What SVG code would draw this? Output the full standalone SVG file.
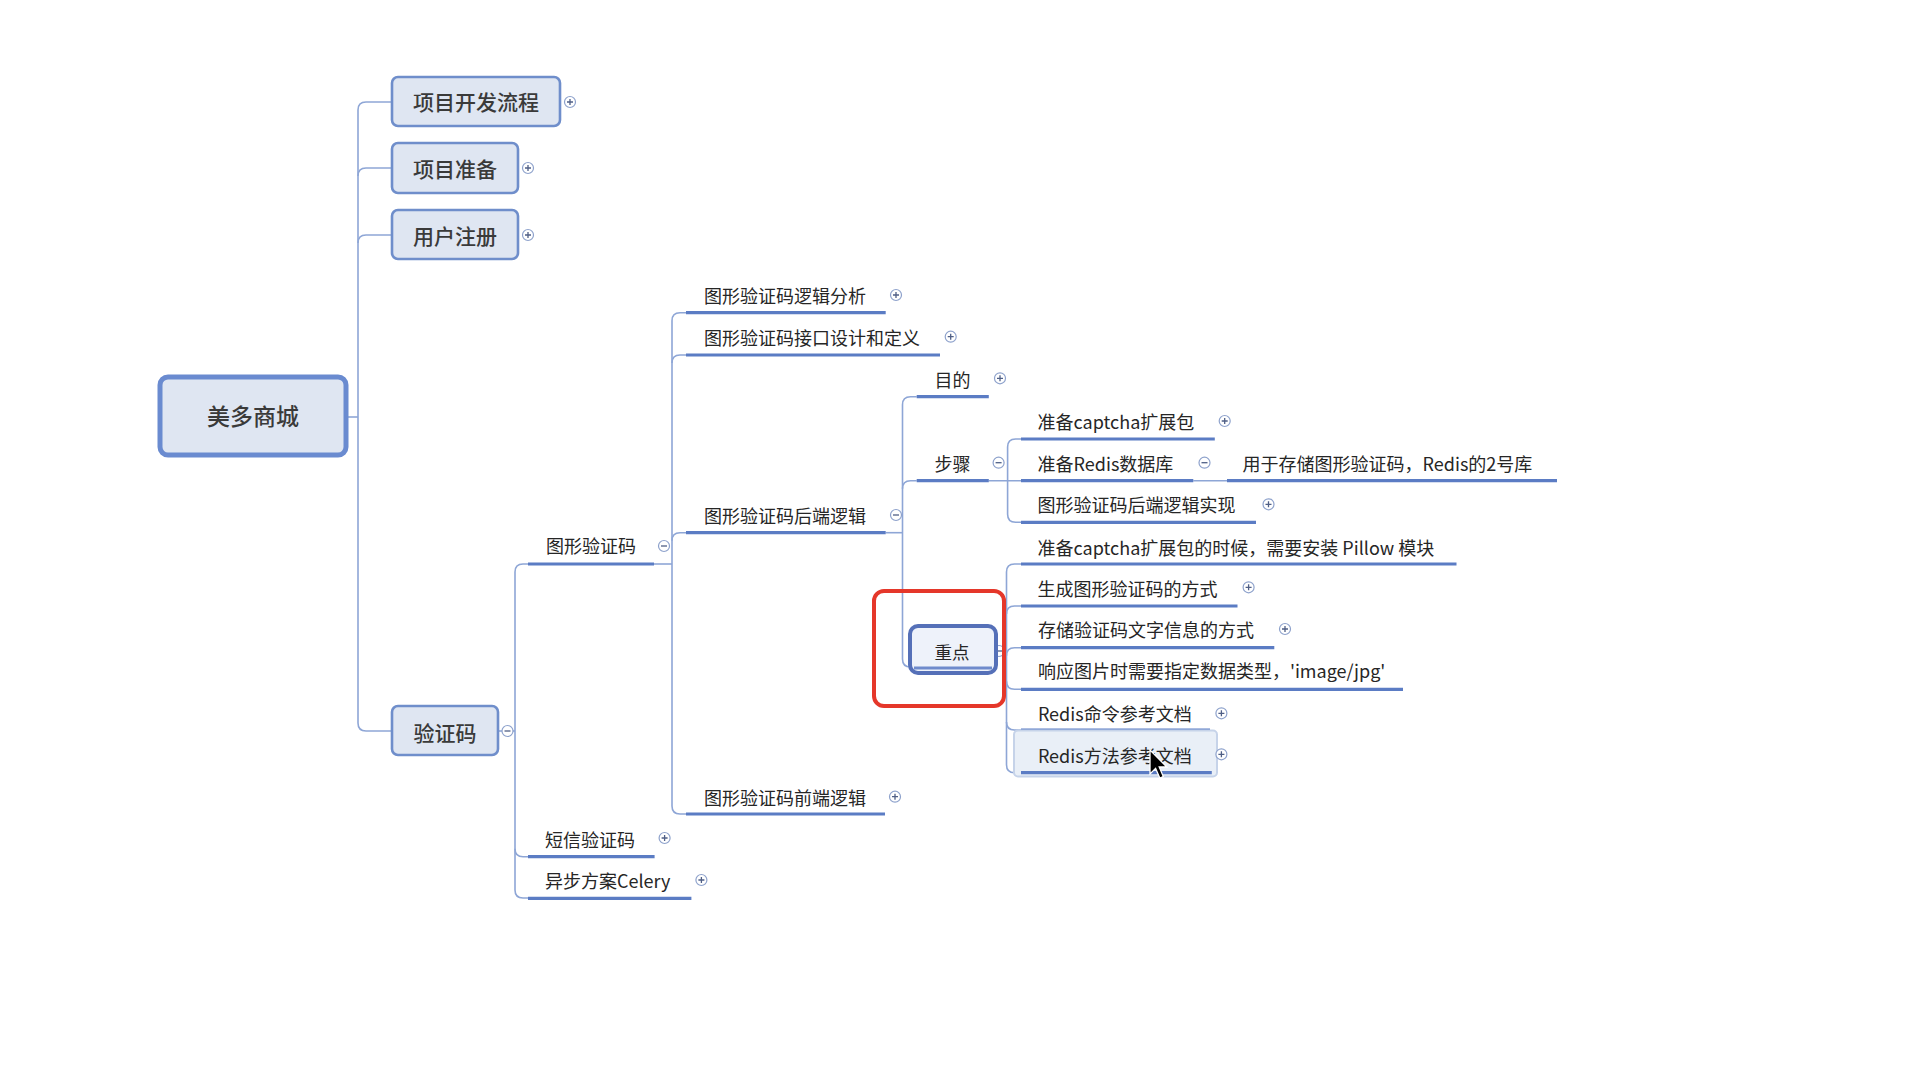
<svg xmlns="http://www.w3.org/2000/svg" xmlns:xlink="http://www.w3.org/1999/xlink" width="1912" height="1070" viewBox="0 0 1912 1070">
<style>
.conn{fill:none;stroke:#8ea6d6;stroke-width:1.6}
.ul{stroke:#5b7cc4;stroke-width:3.2;fill:none}
.box{fill:#dfe6f2;stroke:#6f8ecb;stroke-width:2.6}
.root{fill:#dfe6f2;stroke:#6a8bd0;stroke-width:5}
.t{font-family:"Noto Sans CJK SC","Noto Sans",sans-serif;font-size:18px;fill:#262626}
.bt{font-family:"Noto Sans CJK SC","Noto Sans",sans-serif;font-size:21px;font-weight:500;fill:#3a3a3a;text-anchor:middle}
.ic{fill:#fff;stroke:#8ea2cc;stroke-width:1.2}
.icl{stroke:#4f5f86;stroke-width:1.3}
</style>
<defs>
<g id="plus"><circle class="ic" r="5.5"/><path class="icl" d="M-3,0H3M0,-3V3"/></g>
<g id="minus"><circle class="ic" r="5.5"/><path class="icl" d="M-3,0H3"/></g>
</defs>
<rect width="1912" height="1070" fill="#fff"/>
<g id="connectors">
<path class="conn" d="M392,102 H366 Q358,102 358,110 V723 Q358,731 366,731 H392"/>
<path class="conn" d="M392,168 H366 Q358,168 358,176"/>
<path class="conn" d="M392,235 H366 Q358,235 358,243"/>
<path class="conn" d="M348,417 H358"/>
<path class="conn" d="M498,731 H515"/>
<path class="conn" d="M528,564 H523 Q515,564 515,572 V890 Q515,898 523,898 H528"/>
<path class="conn" d="M515,848.7 Q515,856.7 523,856.7 H528"/>
<path class="conn" d="M654,564 H672"/>
<path class="conn" d="M686,312.7 H680 Q672,312.7 672,320.7 V806 Q672,814 680,814 H686"/>
<path class="conn" d="M686,355 H680 Q672,355 672,363"/>
<path class="conn" d="M686,532.7 H680 Q672,532.7 672,540.7"/>
<path class="conn" d="M885.7,532.7 H902.5"/>
<path class="conn" d="M916.7,396.7 H910.5 Q902.5,396.7 902.5,404.7 V659 Q902.5,667 910.5,667 H913"/>
<path class="conn" d="M916.7,480.7 H910.5 Q902.5,480.7 902.5,488.7"/>
<path class="conn" d="M988.8,480.7 H1021"/>
<path class="conn" d="M1021,439 H1015.6 Q1007.6,439 1007.6,447 V514.3 Q1007.6,522.3 1015.6,522.3 H1021"/>
<path class="conn" d="M1193.3,480.7 H1227"/>
<path class="conn" d="M997,651 H1006.5"/>
<path class="conn" d="M1021,564 H1014.5 Q1006.5,564 1006.5,572 V764.7 Q1006.5,772.7 1014.5,772.7 H1021"/>
<path class="conn" d="M1021,606 H1014.5 Q1006.5,606 1006.5,614"/>
<path class="conn" d="M1021,647.7 H1014.5 Q1006.5,647.7 1006.5,655.7"/>
<path class="conn" d="M1006.5,681.3 Q1006.5,689.3 1014.5,689.3 H1021"/>
<path class="conn" d="M1006.5,722 Q1006.5,730 1014.5,730 H1021"/>
</g>
<g id="n_root"><rect class="root" x="160" y="377" width="186" height="78" rx="8"/><text class="bt" x="253" y="425" style="font-size:23px">美多商城</text></g>
<g id="n_lc"><rect class="box" x="392" y="77" width="168" height="49" rx="6"/><text class="bt" x="476" y="110">项目开发流程</text><use xlink:href="#plus" x="570" y="102"/></g>
<g id="n_zb"><rect class="box" x="392" y="143" width="126" height="50" rx="6"/><text class="bt" x="455" y="176.5">项目准备</text><use xlink:href="#plus" x="528" y="168"/></g>
<g id="n_zc"><rect class="box" x="392" y="210" width="126" height="49" rx="6"/><text class="bt" x="455" y="243.5">用户注册</text><use xlink:href="#plus" x="528" y="235"/></g>
<g id="n_yzm"><rect class="box" x="392" y="706" width="106" height="49" rx="6"/><text class="bt" x="445" y="740.5">验证码</text><use xlink:href="#minus" x="507.5" y="731"/></g>
<g id="n_tx"><path class="ul" d="M528,564H654"/><text class="t" x="546" y="553">图形验证码</text><use xlink:href="#minus" x="664" y="546"/></g>
<g id="n_dx"><path class="ul" d="M528,856.7H654.6"/><text class="t" x="545" y="846.5">短信验证码</text><use xlink:href="#plus" x="664.6" y="838"/></g>
<g id="n_celery"><path class="ul" d="M528,898.3H691.4"/><text class="t" x="545" y="888">异步方案Celery</text><use xlink:href="#plus" x="701.4" y="880"/></g>
<g id="n_ljfx"><path class="ul" d="M686,312.7H885.7"/><text class="t" x="704" y="303">图形验证码逻辑分析</text><use xlink:href="#plus" x="896" y="295"/></g>
<g id="n_jksj"><path class="ul" d="M686,355H940"/><text class="t" x="704" y="344.5">图形验证码接口设计和定义</text><use xlink:href="#plus" x="950.7" y="336.7"/></g>
<g id="n_hdlj"><path class="ul" d="M686,532.7H885.7"/><text class="t" x="704" y="523">图形验证码后端逻辑</text><use xlink:href="#minus" x="896" y="515"/></g>
<g id="n_qdlj"><path class="ul" d="M686,814H885"/><text class="t" x="704" y="804.5">图形验证码前端逻辑</text><use xlink:href="#plus" x="895" y="796.7"/></g>
<g id="n_md"><path class="ul" d="M916.7,396.7H988.8"/><text class="t" x="934.6" y="387">目的</text><use xlink:href="#plus" x="1000" y="378.3"/></g>
<g id="n_bz"><path class="ul" d="M916.7,480.7H988.8"/><text class="t" x="934.6" y="471">步骤</text><use xlink:href="#minus" x="998.6" y="462.7"/></g>
<g id="n_captcha"><path class="ul" d="M1021,439H1214.8"/><text class="t" x="1037.6" y="429">准备captcha扩展包</text><use xlink:href="#plus" x="1224.7" y="421"/></g>
<g id="n_redisdb"><path class="ul" d="M1021,480.7H1193.3"/><text class="t" x="1037.6" y="470.5">准备Redis数据库</text><use xlink:href="#minus" x="1204.5" y="462.7"/></g>
<g id="n_redis2"><path class="ul" d="M1227,480.7H1557"/><text class="t" x="1242.6" y="471">用于存储图形验证码，Redis的2号库</text></g>
<g id="n_impl"><path class="ul" d="M1021,522.3H1256"/><text class="t" x="1037.6" y="512">图形验证码后端逻辑实现</text><use xlink:href="#plus" x="1268.5" y="504.3"/></g>
<g id="n_zd"><use xlink:href="#minus" x="999" y="651"/><rect x="910" y="626" width="86" height="47" rx="8" fill="#eef2fa" stroke="#5570b8" stroke-width="4"/><path d="M914,668H992" stroke="#6f8bcc" stroke-width="3"/><text class="t" x="952" y="659" text-anchor="middle" style="font-size:17.5px">重点</text></g>
<g id="n_pillow"><path class="ul" d="M1021,564H1456.5"/><text class="t" x="1037.6" y="554.8">准备captcha扩展包的时候，需要安装 Pillow 模块</text></g>
<g id="n_gen"><path class="ul" d="M1021,606H1237.5"/><text class="t" x="1037.6" y="595.8">生成图形验证码的方式</text><use xlink:href="#plus" x="1248.6" y="587.3"/></g>
<g id="n_store"><path class="ul" d="M1021,647.7H1274.3"/><text class="t" x="1037.9" y="636.5">存储验证码文字信息的方式</text><use xlink:href="#plus" x="1285" y="629"/></g>
<g id="n_resp"><path class="ul" d="M1021,689.3H1403"/><text class="t" x="1037.9" y="678">响应图片时需要指定数据类型，'image/jpg'</text></g>
<g id="n_rediscmd"><path class="ul" d="M1021,730H1210"/><text class="t" x="1037.9" y="721">Redis命令参考文档</text><use xlink:href="#plus" x="1221.4" y="713.3"/></g>
<g id="n_redismethod"><rect x="1014" y="730.5" width="203" height="46" rx="4" fill="#e9eff7" stroke="#c6d3e9" stroke-width="2"/><path class="ul" d="M1021,772.7H1211.8"/><text class="t" x="1037.9" y="762.5">Redis方法参考文档</text><use xlink:href="#plus" x="1221.4" y="754.3"/></g>
<rect id="highlight" x="874" y="591" width="130" height="115" rx="10" fill="none" stroke="#e5372a" stroke-width="4"/>
<path id="cursor" d="M1150,750 L1150,774 L1155.6,768.4 L1159.8,778 L1163.3,776.6 L1159.2,767 L1166.8,767 Z" fill="#000" stroke="#fff" stroke-width="1.3"/>
</svg>
